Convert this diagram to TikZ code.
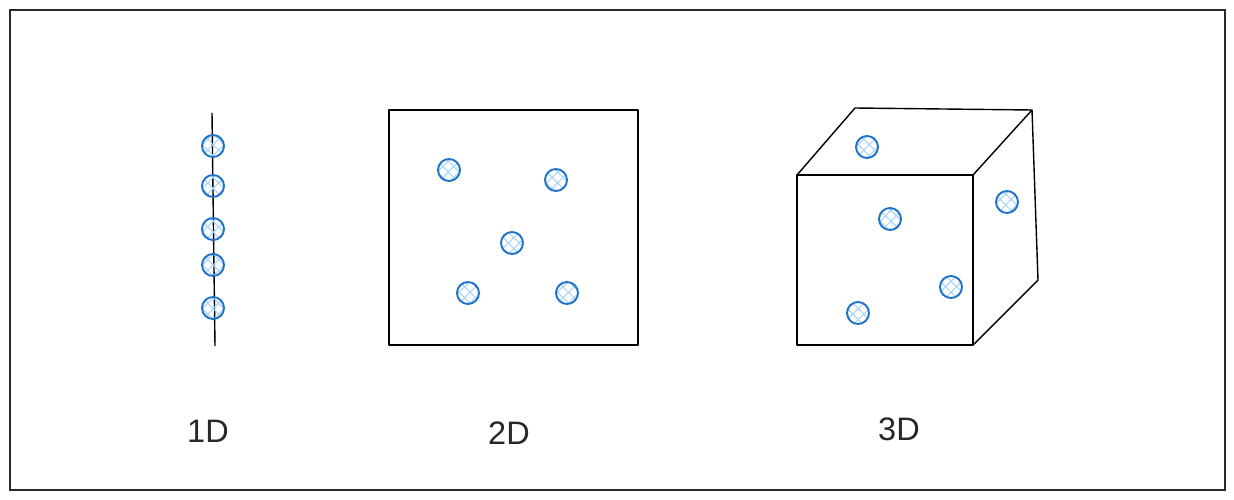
\documentclass[tikz,border=0pt]{standalone}
\usepackage{fontspec}
\setmainfont{Liberation Sans}
\usetikzlibrary{patterns.meta, positioning}
\definecolor{dotBlue}{RGB}{30, 115, 200}
\definecolor{hatchBlue}{RGB}{165, 212, 248}
\definecolor{lineGray}{RGB}{40, 40, 40}
\begin{document}
\begin{tikzpicture}[
        x=0.02cm, y=-0.02cm,
        frame/.style={draw=lineGray, line width=0.8pt},
        edge/.style={draw=black, line width=0.8pt, line join=round},
        dot/.style={circle, draw=dotBlue, line width=1.1pt, minimum size=0.44cm, inner sep=0pt,
            preaction={pattern={Lines[angle=45, distance=4.4pt, line width=0.6pt]}, pattern color=hatchBlue},
            pattern={Lines[angle=-45, distance=4.4pt, line width=0.6pt]}, pattern color=hatchBlue},
        label/.style={font=\fontsize{18.5}{20}\selectfont, text=lineGray}
    ]
        \useasboundingbox (0,0) rectangle (1234,500);
        % Outer frame
        \draw[frame] (10,10) rectangle (1225,490);

        % 1D line
        \coordinate (lineTop) at (212,113);
        \coordinate (lineBot) at (215,346);
        \draw[edge] (lineTop) -- (lineBot);
        \node[dot] (a1) at (213,146) {};
        \node[dot] (a2) at (213,186) {};
        \node[dot] (a3) at (213,229) {};
        \node[dot] (a4) at (213,265) {};
        \node[dot] (a5) at (213,308) {};

        % 2D square
        \draw[edge] (389,110) rectangle (638,345);
        \node[dot] (b1) at (449,170) {};
        \node[dot] (b2) at (556,180) {};
        \node[dot] (b3) at (512,243) {};
        \node[dot] (b4) at (468,293) {};
        \node[dot] (b5) at (567,293) {};

        % 3D cube
        \coordinate (fTL) at (797,175);
        \coordinate (fTR) at (973,175);
        \coordinate (fBR) at (973,345);
        \coordinate (fBL) at (797,345);
        \coordinate (bTL) at (855,108);
        \coordinate (bTR) at (1032,110);
        \coordinate (bBR) at (1038,280);
        \draw[edge] (fTL) -- (fTR) -- (fBR) -- (fBL) -- cycle;
        \draw[edge] (fTL) -- (bTL) -- (bTR) -- (fTR);
        \draw[edge] (bTR) -- (bBR) -- (fBR);
        \node[dot] (c1) at (867,147) {};
        \node[dot] (c2) at (890,219) {};
        \node[dot] (c3) at (1007,202) {};
        \node[dot] (c4) at (951,287) {};
        \node[dot] (c5) at (858,313) {};

        % Labels
        \node[label] (oneD) at (208,431) {1D};
        \node[label] (twoD) at (509,433) {2D};
        \node[label] (threeD) at (899,429) {3D};
    \end{tikzpicture}
\end{document}
